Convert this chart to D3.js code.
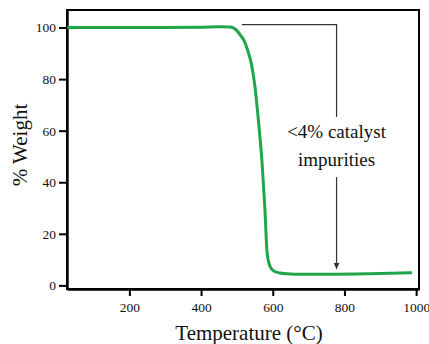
<!DOCTYPE html>
<html>
<head>
<meta charset="utf-8">
<script src="https://cdn.jsdelivr.net/npm/d3@7"></script>
<style>
  html, body { margin: 0; padding: 0; background: #fff; }
  svg { display: block; }
  text { font-family: "Liberation Serif", "DejaVu Serif", serif; fill: #111; }
</style>
</head>
<body>
<div id="chart"></div>
<script>
// TGA curve
const temps   = [30, 100, 200, 300, 400, 450, 480, 500, 510, 520, 530, 540, 550, 560, 570, 578, 584, 590, 597, 606, 620, 640, 680, 760, 870, 985];
const weights = [100, 100, 100, 100, 100.1, 100.3, 100.2, 98.8, 97.0, 94.9, 91.2, 86.2, 77.5, 64, 48, 30, 13, 8.3, 6.3, 5.4, 4.8, 4.5, 4.3, 4.3, 4.5, 4.9];

const xTicks = [200, 400, 600, 800, 1000];
const yTicks = [0, 20, 40, 60, 80, 100];

const noteLines = ['<4% catalyst', 'impurities'];

const width = 429, height = 344;
const margin = {top: 10, right: 10, bottom: 55, left: 67};

const svg = d3.select('#chart').append('svg')
  .attr('width', width)
  .attr('height', height);

const x = d3.scaleLinear().domain([26, 1008]).range([margin.left, width - margin.right]);
const y = d3.scaleLinear().domain([-1.4, 106.8]).range([height - margin.bottom, margin.top]);

// frame
svg.append('rect')
  .attr('x', x.range()[0]).attr('y', y.range()[1])
  .attr('width', x.range()[1] - x.range()[0])
  .attr('height', y.range()[0] - y.range()[1])
  .attr('fill', 'none').attr('stroke', '#000').attr('stroke-width', 2);

const xAxis = svg.append('g')
  .attr('transform', 'translate(0,' + y.range()[0] + ')')
  .call(d3.axisBottom(x).tickValues(xTicks).tickFormat(d3.format('d'))
    .tickSize(7).tickPadding(6).tickSizeOuter(0));

const yAxis = svg.append('g')
  .attr('transform', 'translate(' + x.range()[0] + ',0)')
  .call(d3.axisLeft(y).tickValues(yTicks).tickFormat(d3.format('d'))
    .tickSize(8).tickPadding(3).tickSizeOuter(0));

[xAxis, yAxis].forEach(function(g) {
  g.select('.domain').attr('stroke', '#000').attr('stroke-width', 2.4);
  g.selectAll('.tick line').attr('stroke', '#000').attr('stroke-width', 2);
  g.selectAll('.tick text')
    .style('font-family', '"Liberation Serif", serif')
    .style('font-size', '13.5px')
    .style('fill', '#111');
});

// curve
const pts = temps.map(function(t, i) { return [t, weights[i]]; });
const line = d3.line()
  .x(function(d) { return x(d[0]); })
  .y(function(d) { return y(d[1]); })
  .curve(d3.curveMonotoneX);

svg.append('path')
  .datum(pts)
  .attr('d', line)
  .attr('fill', 'none')
  .attr('stroke', '#1fa64a')
  .attr('stroke-width', 3)
  .attr('stroke-linecap', 'round');

// annotation: leader from top of drop, arrow down to residue
const noteX = 778;
svg.append('path')
  .attr('d', d3.line()([[x(514), y(101.1)], [x(noteX), y(101.1)], [x(noteX), y(65.3)]]))
  .attr('fill', 'none').attr('stroke', '#333').attr('stroke-width', 1.2);

svg.append('defs').append('marker')
  .attr('id', 'head')
  .attr('viewBox', '0 0 10 10')
  .attr('refX', 10).attr('refY', 5)
  .attr('markerWidth', 6).attr('markerHeight', 9)
  .attr('markerUnits', 'userSpaceOnUse')
  .attr('orient', 'auto')
  .append('path').attr('d', 'M0,0L10,5L0,10Z').attr('fill', '#333');

svg.append('line')
  .attr('x1', x(noteX)).attr('x2', x(noteX))
  .attr('y1', y(42)).attr('y2', y(6.4))
  .attr('stroke', '#333').attr('stroke-width', 1.2)
  .attr('marker-end', 'url(#head)');

svg.selectAll('.note')
  .data(noteLines)
  .enter().append('text')
  .attr('class', 'note')
  .attr('x', x(noteX))
  .attr('y', function(d, i) { return y(57.1) + i * 28; })
  .attr('text-anchor', 'middle')
  .attr('font-size', 19)
  .text(function(d) { return d; });

// axis titles
svg.append('text')
  .attr('x', 249).attr('y', 340)
  .attr('text-anchor', 'middle')
  .attr('font-size', 21)
  .text('Temperature (°C)');

svg.append('text')
  .attr('transform', 'translate(27,145) rotate(-90)')
  .attr('text-anchor', 'middle')
  .attr('font-size', 21)
  .text('% Weight');
</script>
</body>
</html>
